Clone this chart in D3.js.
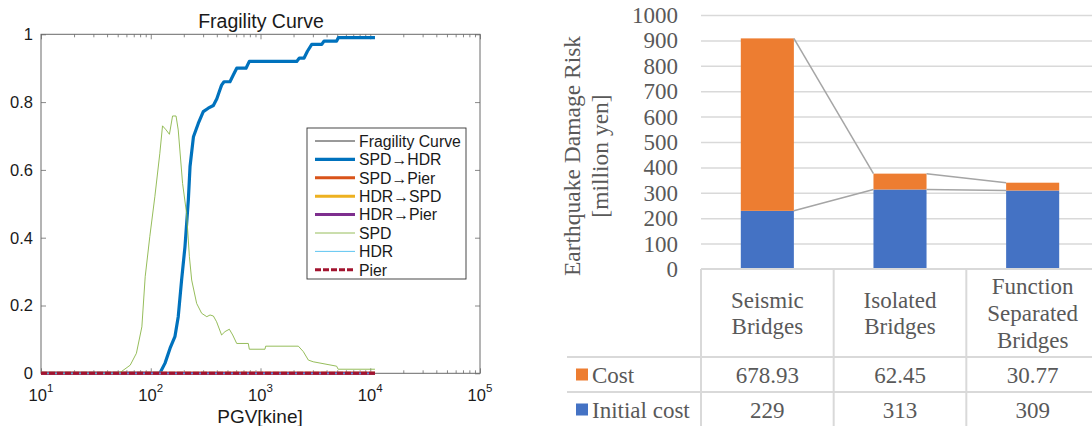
<!DOCTYPE html>
<html>
<head>
<meta charset="utf-8">
<script src="https://cdn.jsdelivr.net/npm/d3@7/dist/d3.min.js"></script>
<style>
  html, body { margin: 0; padding: 0; background: #fff; }
  svg { display: block; }
</style>
</head>
<body>
<svg id="chart" width="1092" height="426"></svg>
<script>
// ---------- Left panel data (Fragility Curve) ----------
const fragTitle = "Fragility Curve";
const fragXLabel = "PGV[kine]";
const fragXTicks = [10, 100, 1000, 10000, 100000];
const fragYTicks = [0, 0.2, 0.4, 0.6, 0.8, 1];
const legendNames = ["Fragility Curve", "SPD→HDR", "SPD→Pier", "HDR→SPD", "HDR→Pier", "SPD", "HDR", "Pier"];

const zeroPgv = [10, 11040];
const zeroProb = [0, 0];

const spdHdrPgv = [10, 121, 135, 150, 166, 178, 191, 205, 220, 228, 245, 271, 301, 334, 372, 400, 420, 442, 465, 527, 565, 607, 738, 791, 2138, 2260, 2495, 2676, 2930, 3615, 3790, 4940, 5120, 11040];
const spdHdrProb = [0, 0, 0.03, 0.074, 0.108, 0.167, 0.275, 0.373, 0.511, 0.61, 0.698, 0.737, 0.772, 0.782, 0.79, 0.81, 0.83, 0.85, 0.86, 0.86, 0.88, 0.9, 0.9, 0.92, 0.92, 0.93, 0.93, 0.95, 0.97, 0.97, 0.98, 0.98, 0.99, 0.99];

const spdPgv = [10, 50, 54, 65, 74, 83, 89, 98, 109, 121, 128, 138, 148, 158, 170, 178, 195, 212, 225, 236, 262, 291, 324, 347, 372, 398, 442, 475, 520, 558, 607, 774, 791, 1099, 1114, 2213, 2455, 2729, 3020, 4940, 5100, 11040];
const spdProb = [0, 0, 0.005, 0.024, 0.059, 0.137, 0.285, 0.403, 0.521, 0.649, 0.73, 0.718, 0.705, 0.759, 0.759, 0.718, 0.56, 0.472, 0.344, 0.275, 0.206, 0.177, 0.167, 0.172, 0.169, 0.152, 0.113, 0.123, 0.13, 0.113, 0.088, 0.088, 0.071, 0.071, 0.08, 0.08, 0.064, 0.039, 0.034, 0.021, 0.012, 0.012];

// ---------- Right panel data (stacked bars + data table) ----------
const categories = ["Seismic Bridges", "Isolated Bridges", "Function Separated Bridges"];
const categoryLines = [["Seismic", "Bridges"], ["Isolated", "Bridges"], ["Function", "Separated", "Bridges"]];
const initialCost = [229, 313, 309];
const damageCost = [678.93, 62.45, 30.77];
const initialCostLabels = ["229", "313", "309"];
const damageCostLabels = ["678.93", "62.45", "30.77"];
const seriesNames = ["Cost", "Initial cost"];
const riskTicks = [0, 100, 200, 300, 400, 500, 600, 700, 800, 900, 1000];
const riskTitle = ["Earthquake Damage Risk", "[million yen]"];

const svg = d3.select("#chart");
svg.append("rect").attr("width", 1092).attr("height", 426).attr("fill", "#fff");

// ================= LEFT PANEL =================
const L = { left: 41, right: 480, top: 34.3, bottom: 373.3 };
const xL = d3.scaleLog().domain([10, 100000]).range([L.left, L.right]);
const yL = d3.scaleLinear().domain([0, 1]).range([L.bottom, L.top]);
const axisColor = "#6a6a6a";
const sans = "Liberation Sans, Arial, sans-serif";

const gL = svg.append("g");

const minorTicks = [];
for (let k = 1; k <= 4; k++) for (let m = 2; m <= 9; m++) minorTicks.push(m * Math.pow(10, k));

function styleAxis(g) {
  g.select(".domain").remove();
  g.selectAll(".tick line").attr("stroke", axisColor).attr("stroke-width", 0.8);
  g.selectAll(".tick text").remove();
}
gL.append("g").attr("transform", `translate(0,${L.bottom})`)
  .call(d3.axisBottom(xL).tickValues(fragXTicks).tickSize(-5).tickFormat("")).call(styleAxis);
gL.append("g").attr("transform", `translate(0,${L.bottom})`)
  .call(d3.axisBottom(xL).tickValues(minorTicks).tickSize(-3).tickFormat("")).call(styleAxis);
gL.append("g").attr("transform", `translate(0,${L.top})`)
  .call(d3.axisTop(xL).tickValues(fragXTicks).tickSize(-5).tickFormat("")).call(styleAxis);
gL.append("g").attr("transform", `translate(0,${L.top})`)
  .call(d3.axisTop(xL).tickValues(minorTicks).tickSize(-3).tickFormat("")).call(styleAxis);
gL.append("g").attr("transform", `translate(${L.left},0)`)
  .call(d3.axisLeft(yL).tickValues(fragYTicks).tickSize(-5).tickFormat("")).call(styleAxis);
gL.append("g").attr("transform", `translate(${L.right},0)`)
  .call(d3.axisRight(yL).tickValues(fragYTicks).tickSize(-5).tickFormat("")).call(styleAxis);

gL.append("rect").attr("x", L.left).attr("y", L.top)
  .attr("width", L.right - L.left).attr("height", L.bottom - L.top)
  .attr("fill", "none").attr("stroke", axisColor).attr("stroke-width", 1);

gL.selectAll(".ylab").data(fragYTicks).join("text")
  .attr("x", L.left - 8).attr("y", d => yL(d)).attr("dy", "0.36em")
  .attr("text-anchor", "end").attr("font-family", sans).attr("font-size", 16.5).attr("fill", "#1a1a1a")
  .text(d => d3.format("~g")(d));
const xl = gL.selectAll(".xlab").data(fragXTicks).join("text")
  .attr("x", d => xL(d)).attr("y", 401)
  .attr("text-anchor", "middle").attr("font-family", sans).attr("font-size", 16.5).attr("fill", "#1a1a1a");
xl.append("tspan").text("10");
xl.append("tspan").attr("dy", -9).attr("font-size", 11.5).text(d => Math.round(Math.log10(d)));

gL.append("text").attr("x", 261).attr("y", 28).attr("text-anchor", "middle")
  .attr("font-family", sans).attr("font-size", 19.5).attr("fill", "#1a1a1a").text(fragTitle);
gL.append("text").attr("x", 260).attr("y", 423).attr("text-anchor", "middle")
  .attr("font-family", sans).attr("font-size", 19).attr("fill", "#1a1a1a").text(fragXLabel);

const lineL = d3.line().x(d => xL(d[0])).y(d => yL(d[1]));
const zip = (a, b) => a.map((v, i) => [v, b[i]]);
const seriesStyles = [
  { name: legendNames[0], color: "#000000", w: 0.8, dash: null, data: zip(zeroPgv, zeroProb) },
  { name: legendNames[1], color: "#0072BD", w: 3.2, dash: null, data: zip(spdHdrPgv, spdHdrProb) },
  { name: legendNames[2], color: "#D95319", w: 3, dash: null, data: zip(zeroPgv, zeroProb) },
  { name: legendNames[3], color: "#EDB120", w: 3, dash: null, data: zip(zeroPgv, zeroProb) },
  { name: legendNames[4], color: "#7E2F8E", w: 3, dash: null, data: zip(zeroPgv, zeroProb) },
  { name: legendNames[5], color: "#8AB548", w: 0.9, dash: null, data: zip(spdPgv, spdProb) },
  { name: legendNames[6], color: "#4DBEEE", w: 0.9, dash: null, data: zip(zeroPgv, zeroProb) },
  { name: legendNames[7], color: "#A2142F", w: 3, dash: "6,2", data: zip(zeroPgv, zeroProb) }
];
svg.append("clipPath").attr("id", "clipL").append("rect")
  .attr("x", L.left).attr("y", L.top - 3).attr("width", L.right - L.left).attr("height", L.bottom - L.top + 6);
gL.append("g").attr("clip-path", "url(#clipL)").selectAll("path").data(seriesStyles).join("path")
  .attr("d", d => lineL(d.data)).attr("fill", "none")
  .attr("stroke", d => d.color).attr("stroke-width", d => d.w)
  .attr("stroke-dasharray", d => d.dash).attr("stroke-linejoin", "round");

// legend
const lg = gL.append("g");
lg.append("rect").attr("x", 307).attr("y", 128).attr("width", 159).attr("height", 151)
  .attr("fill", "#fff").attr("stroke", "#333").attr("stroke-width", 0.9);
const le = lg.selectAll("g.le").data(seriesStyles).join("g")
  .attr("transform", (d, i) => `translate(0,${141 + i * 18.4})`);
le.append("line").attr("x1", 315).attr("x2", 355).attr("y1", 0).attr("y2", 0)
  .attr("stroke", d => d.color).attr("stroke-width", d => d.w).attr("stroke-dasharray", d => d.dash);
le.append("text").attr("x", 359).attr("y", 0).attr("dy", "0.36em")
  .attr("font-family", "Liberation Sans, DejaVu Sans, sans-serif").attr("font-size", 15.8)
  .attr("fill", "#1a1a1a").text(d => d.name);

// ================= RIGHT PANEL =================
const serif = "Liberation Serif, Times New Roman, serif";
const textCol = "#595959";
const gridCol = "#d9d9d9";
const xR = d3.scaleBand().domain(categories).range([701, 1099]).paddingInner(0.6).paddingOuter(0.3);
const yR = d3.scaleLinear().domain([0, 1000]).range([269, 15]);
const gR = svg.append("g");

gR.append("g").attr("transform", "translate(701,0)")
  .call(d3.axisRight(yR).tickValues(riskTicks.slice(1)).tickSize(400).tickFormat(""))
  .call(g => { g.select(".domain").remove(); g.selectAll(".tick line").attr("stroke", gridCol).attr("stroke-width", 1.5); });

gR.selectAll(".rlab").data(riskTicks).join("text")
  .attr("x", 678).attr("y", d => yR(d)).attr("dy", "0.35em").attr("text-anchor", "end")
  .attr("font-family", serif).attr("font-size", 23).attr("fill", textCol).text(d => d);

riskTitle.forEach((t, i) => {
  gR.append("text").attr("transform", `translate(${572 + i * 28},156) rotate(-90)`)
    .attr("text-anchor", "middle").attr("dy", "0.35em")
    .attr("font-family", serif).attr("font-size", 23.5).attr("fill", textCol).text(t);
});

const bw = xR.bandwidth();
const stackTop = initialCost.map((v, i) => v + damageCost[i]);
gR.selectAll(".bInit").data(categories).join("rect")
  .attr("x", d => xR(d)).attr("width", bw)
  .attr("y", (d, i) => yR(initialCost[i])).attr("height", (d, i) => yR(0) - yR(initialCost[i]))
  .attr("fill", "#4472C4");
gR.selectAll(".bCost").data(categories).join("rect")
  .attr("x", d => xR(d)).attr("width", bw)
  .attr("y", (d, i) => yR(stackTop[i])).attr("height", (d, i) => yR(initialCost[i]) - yR(stackTop[i]))
  .attr("fill", "#ED7D31");

[initialCost, stackTop].forEach(vals => {
  for (let i = 0; i < categories.length - 1; i++) {
    gR.append("line")
      .attr("x1", xR(categories[i]) + bw).attr("y1", yR(vals[i]))
      .attr("x2", xR(categories[i + 1])).attr("y2", yR(vals[i + 1]))
      .attr("stroke", "#a5a5a5").attr("stroke-width", 1.5);
  }
});

const tTop = yR(0), r1 = 357, r2 = 392, tBot = 430;
const colEdges = categories.map(c => xR(c) - xR.step() * 0.3);
gR.append("line").attr("x1", 701).attr("x2", 1092).attr("y1", tTop).attr("y2", tTop)
  .attr("stroke", gridCol).attr("stroke-width", 2);
[r1, r2].forEach(y => gR.append("line").attr("x1", 567).attr("x2", 1092).attr("y1", y).attr("y2", y)
  .attr("stroke", gridCol).attr("stroke-width", 2));
colEdges.forEach(x => gR.append("line").attr("x1", x).attr("x2", x).attr("y1", tTop).attr("y2", tBot)
  .attr("stroke", gridCol).attr("stroke-width", 2));

categories.forEach((c, i) => {
  const lines = categoryLines[i];
  const cx = xR(c) + bw / 2;
  const mid = (tTop + r1) / 2;
  const lh = 26.8;
  lines.forEach((t, j) => {
    gR.append("text").attr("x", cx).attr("y", mid + (j - (lines.length - 1) / 2) * lh)
      .attr("dy", "0.35em").attr("text-anchor", "middle")
      .attr("font-family", serif).attr("font-size", 23).attr("fill", textCol).text(t);
  });
});

[[damageCostLabels, (r1 + r2) / 2], [initialCostLabels, (r2 + 427) / 2]].forEach(([labels, y]) => {
  gR.selectAll(null).data(categories).join("text")
    .attr("x", d => xR(d) + bw / 2).attr("y", y).attr("dy", "0.35em").attr("text-anchor", "middle")
    .attr("font-family", serif).attr("font-size", 23).attr("fill", textCol)
    .text((d, i) => labels[i]);
});

[["#ED7D31", (r1 + r2) / 2], ["#4472C4", (r2 + 427) / 2]].forEach(([col, y], i) => {
  gR.append("rect").attr("x", 576).attr("y", y - 6).attr("width", 12).attr("height", 12).attr("fill", col);
  gR.append("text").attr("x", 592).attr("y", y).attr("dy", "0.35em")
    .attr("font-family", serif).attr("font-size", 23).attr("fill", textCol).text(seriesNames[i]);
});
</script>
</body>
</html>
